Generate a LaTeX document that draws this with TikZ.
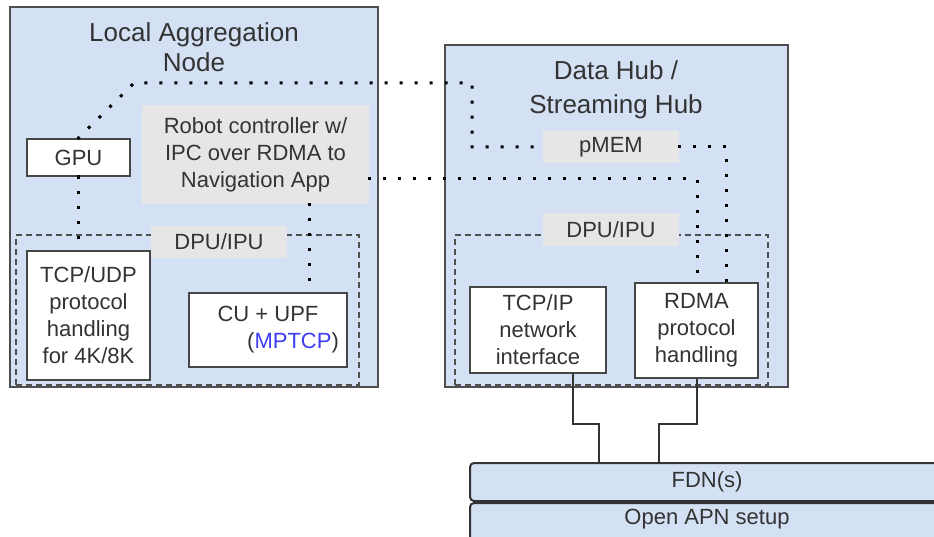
\documentclass[tikz,border=0pt]{standalone}
\usepackage{fontspec}
\setmainfont{Liberation Sans}
\definecolor{hubblue}{HTML}{D4E1F4}
\definecolor{lblgray}{HTML}{E6E6E6}
\definecolor{txt}{HTML}{333333}
\definecolor{edge}{HTML}{4F4F4F}
\definecolor{mpblue}{HTML}{3D3DF5}
\tikzset{
  hub/.style={draw=edge, line width=2pt, fill=hubblue, inner sep=0pt},
  wbox/.style={draw=edge!90!black, line width=2pt, fill=white, text=txt, align=center, inner sep=0pt, font=\fontsize{22}{27}\selectfont},
  glabel/.style={fill=lblgray, text=txt, align=center, inner sep=0pt, font=\fontsize{22}{27}\selectfont},
  dpubox/.style={draw=edge, line width=1.8pt, dash pattern=on 6pt off 4pt, inner sep=0pt},
  title/.style={text=txt, align=center, inner sep=0pt},
  dots/.style={line width=3pt, dash pattern=on 0.01pt off 15pt, line cap=rect, draw=black},
  wire/.style={draw=black!80, line width=1.6pt},
  fdn/.style={draw=black!80, line width=2pt, fill=hubblue, rounded corners=4pt},
}
\begin{document}
\begin{tikzpicture}[x=1pt,y=-1pt]
\clip (0,0) rectangle (934,537);
\fill[white] (0,0) rectangle (934,537);
% big boxes
\node[hub, minimum width=368pt, minimum height=380pt] (lan) at (194,197) {};
\node[hub, minimum width=343pt, minimum height=342pt] (dh) at (616.5,216) {};
\node[title, font=\fontsize{26}{30}\selectfont] (lant) at (194,47) {Local Aggregation\\Node};
\node[title, font=\fontsize{26}{34}\selectfont] (dht) at (616,90) {Data Hub /\\Streaming Hub};
% dashed DPU boxes
\node[dpubox, minimum width=343pt, minimum height=150pt] (dpul) at (187.5,310) {};
\node[dpubox, minimum width=313pt, minimum height=150pt] (dpur) at (611.5,310) {};
% labels
\node[glabel, minimum width=227pt, minimum height=99pt] (robot) at (255.5,154.5) {Robot controller w/\\IPC over RDMA to\\Navigation App};
\node[glabel, minimum width=136pt, minimum height=32pt] (dpull) at (219,242) {DPU/IPU};
\node[glabel, minimum width=136pt, minimum height=33pt] (dpurl) at (611,229.5) {DPU/IPU};
\node[glabel, minimum width=136pt, minimum height=32pt] (pmem) at (611,147) {pMEM};
% white boxes
\node[wbox, minimum width=103pt, minimum height=37pt] (gpu) at (78.5,157.5) {GPU};
\node[wbox, minimum width=123pt, minimum height=129pt] (tcpudp) at (88.5,315.5) {TCP/UDP\\protocol\\handling\\for 4K/8K};
\node[wbox, minimum width=158pt, minimum height=74pt] (cuupf) at (268,330) {CU + UPF\\\hspace*{50pt}(\textcolor{mpblue}{MPTCP})};
\node[wbox, minimum width=136pt, minimum height=86pt] (tcpip) at (538,330) {TCP/IP\\network\\interface};
\node[wbox, minimum width=123pt, minimum height=95pt] (rdma) at (696.5,330.5) {RDMA\\protocol\\handling};
% FDN stack
\node[fdn, minimum width=480pt, minimum height=38pt] (fdnb) at (710,482) {};
\node[text=txt, font=\fontsize{22}{26}\selectfont, inner sep=0pt] (fdnt) at (707,482) {FDN(s)};
\node[fdn, minimum width=480pt, minimum height=40pt] (apn) at (710,523) {};
\node[text=txt, font=\fontsize{22}{26}\selectfont, inner sep=0pt] (apnt) at (707,519) {Open APN setup};
% dotted connectors
\coordinate (c1) at (134,83);
\coordinate (c2) at (472,83);
\coordinate (c3) at (472,147);
\draw[dots] (gpu.north) -- (c1) -- (c2) -- (c3) -- (pmem.west);
\coordinate (c4) at (726,147);
\draw[dots] (pmem.east) -- (c4) -- (c4 |- rdma.north);
\coordinate (c5) at (697,179);
\draw[dots] (robot.east |- c5) -- (c5) -- (c5 |- rdma.north);
\draw[dots] (gpu.south) -- (tcpudp.north -| gpu.south);
\coordinate (c6) at (309,293);
\draw[dots] (robot.south -| c6) -- (c6);
% solid wires
\coordinate (w1) at (573,424);
\coordinate (w2) at (599,424);
\draw[wire] (tcpip.south -| w1) -- (w1) -- (w2) -- (w2 |- fdnb.north);
\coordinate (w3) at (697,424);
\coordinate (w4) at (659,424);
\draw[wire] (rdma.south -| w3) -- (w3) -- (w4) -- (w4 |- fdnb.north);
\end{tikzpicture}
\end{document}
